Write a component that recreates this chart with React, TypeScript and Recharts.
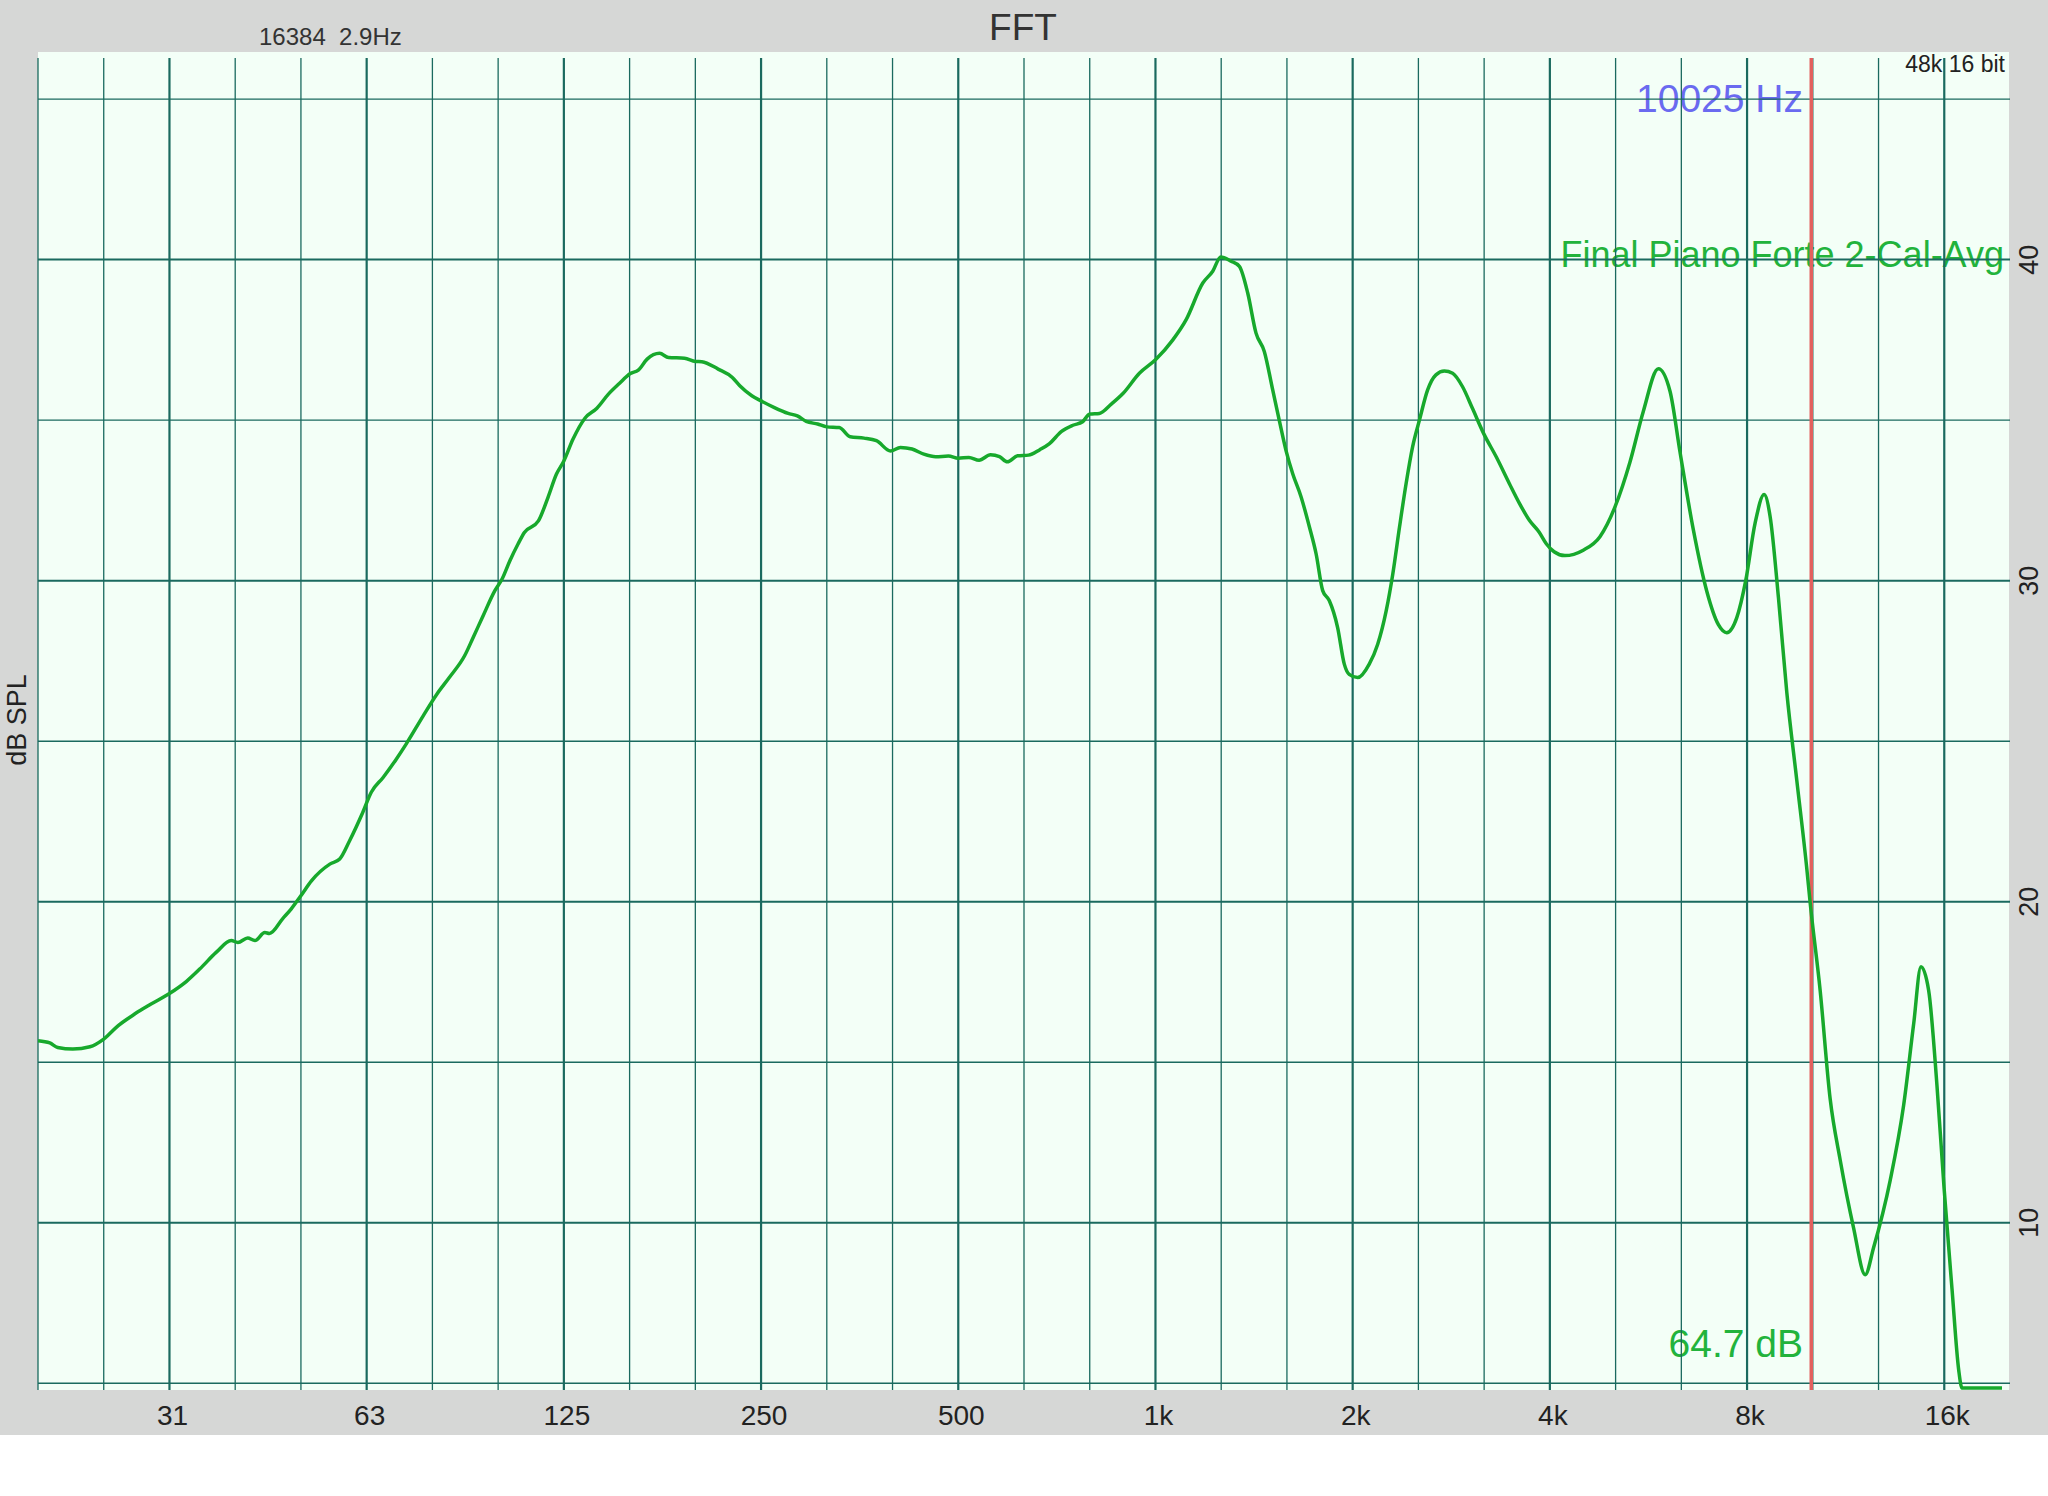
import { LineChart, Line, XAxis, YAxis, ReferenceLine } from "recharts";

// FFT response (Hz, dB SPL)
const FREQ_HZ = [
  19.69, 20.52, 21.1, 22.25, 23.63, 24.8, 26.1, 27.65, 29.29, 31.25,
  33.18, 34.75, 36.82, 38.83, 39.74, 41.14, 42.2, 43.69, 44.4, 46.6,
  47.92, 49.5, 51.47, 54.91, 56.85, 58.86, 61.64, 63.52, 66.22, 69.35,
  71.8, 76.24, 80.03, 83.62, 88.18, 90.88, 94.08, 98.08, 100.6, 103.4,
  106.4, 108.8, 114.3, 118.2, 121.8, 125, 129.1, 134.6, 140.4, 146.2,
  151.9, 157.9, 162.4, 167.5, 175, 180.6, 191, 198.5, 203, 215,
  226, 232, 242, 250, 262, 275, 284, 293, 305, 315,
  329, 342, 359, 375, 394, 408, 425, 443, 462, 483,
  500, 519, 538, 560, 578, 594, 616, 640, 666, 689,
  718, 748, 774, 794, 821, 856, 892, 945, 1000, 1063,
  1114, 1181, 1223, 1258, 1304, 1343, 1383, 1424, 1466, 1510,
  1545, 1582, 1620, 1669, 1718, 1759, 1800, 1842, 1897, 1942,
  1976, 2035, 2120, 2184, 2250, 2303, 2358, 2413, 2469, 2529,
  2603, 2680, 2760, 2842, 2943, 3048, 3170, 3314, 3470, 3596,
  3722, 3853, 3950, 4060, 4217, 4498, 4770, 5034, 5300, 5555,
  5856, 6102, 6320, 6624, 6942, 7233, 7449, 7714, 7962, 8229,
  8494, 8675, 8933, 9199, 9528, 9869, 9985, 10343, 10713, 11096,
  11630, 12118, 12479, 13233, 13869, 14366, 14741, 15144, 15594, 15984,
  16440, 16831, 17029, 19600,
];
const SPL_DB = [
  15.67, 15.6, 15.46, 15.41, 15.48, 15.72, 16.14, 16.5, 16.81, 17.14,
  17.52, 17.9, 18.42, 18.79, 18.73, 18.87, 18.79, 19.04, 19.01, 19.49,
  19.77, 20.16, 20.65, 21.17, 21.33, 21.9, 22.78, 23.41, 23.87, 24.44,
  24.91, 25.79, 26.47, 26.99, 27.66, 28.23, 28.9, 29.69, 30.05, 30.62,
  31.14, 31.5, 31.86, 32.59, 33.32, 33.73, 34.41, 35.06, 35.37, 35.81,
  36.14, 36.45, 36.56, 36.9, 37.08, 36.95, 36.93, 36.83, 36.82, 36.59,
  36.33, 36.07, 35.76, 35.6, 35.39, 35.21, 35.13, 34.96, 34.88, 34.79,
  34.77, 34.48, 34.44, 34.36, 34.04, 34.15, 34.1, 33.94, 33.86, 33.88,
  33.81, 33.84, 33.75, 33.92, 33.86, 33.7, 33.89, 33.91, 34.08, 34.27,
  34.64, 34.84, 34.95, 35.19, 35.21, 35.5, 35.83, 36.46, 36.88, 37.5,
  38.13, 39.27, 39.64, 40.08, 39.95, 39.79, 38.96, 37.71, 37.14, 35.94,
  35.0, 34.06, 33.33, 32.6, 31.67, 30.83, 29.69, 29.38, 28.54, 27.4,
  27.08, 26.98, 27.4, 28.02, 29.06, 30.21, 31.67, 33.02, 34.17, 35.0,
  35.94, 36.41, 36.53, 36.46, 36.04, 35.36, 34.58, 33.85, 33.02, 32.4,
  31.88, 31.51, 31.15, 30.9, 30.78, 30.95, 31.37, 32.32, 33.69, 35.27,
  36.6, 35.9, 34.01, 31.58, 29.68, 28.63, 28.38, 28.84, 30.0, 31.79,
  32.68, 32.0, 29.47, 26.52, 23.78, 21.03, 19.98, 17.24, 13.86, 11.96,
  9.85, 8.38, 9.22, 11.33, 13.65, 16.18, 17.97, 17.24, 14.28, 11.12,
  7.95, 5.42, 4.85, 4.85,
];

const OCTAVE_TICKS = [31.25, 62.5, 125, 250, 500, 1000, 2000, 4000, 8000, 16000];
const OCTAVE_LABELS = ["31", "63", "125", "250", "500", "1k", "2k", "4k", "8k", "16k"];
const DB_TICKS = [10, 20, 30, 40];
const DB_GRID = [5, 10, 15, 20, 25, 30, 35, 40, 45];
// 1/3-octave grid, 20 Hz .. 16 kHz
const THIRD_OCT_STEPS = Array.from({ length: 30 }, (_, i) => i - 17);
const CURSOR_HZ = 10025;

const F_MIN = 1000 * 2 ** (-17 / 3);
const F_MAX = 1000 * 2 ** (13 / 3);
const DB_MIN = 4.79;
const DB_MAX = 46.28;

const FONT = '"Liberation Sans", Arial, Helvetica, sans-serif';
const GRID = "#1a6a5f";
const GREEN = "#17a92c";
const LABEL_GREEN = "#22b33c";

const data = FREQ_HZ.map((f, i) => ({ f, db: SPL_DB[i] }));

function FreqTick({ x, payload }: any) {
  const i = OCTAVE_TICKS.indexOf(payload.value);
  return (
    <text x={x + 3} y={1425} textAnchor="middle" fontSize={28} fontFamily={FONT} fill="#222">
      {OCTAVE_LABELS[i]}
    </text>
  );
}

function DbTick({ y, payload }: any) {
  const x = 2029;
  return (
    <text
      x={x}
      y={y}
      transform={`rotate(-90, ${x}, ${y})`}
      textAnchor="middle"
      dominantBaseline="central"
      fontSize={27}
      fontFamily={FONT}
      fill="#222"
    >
      {payload.value}
    </text>
  );
}

export default function App() {
  return (
    <div style={{ position: "absolute", left: 0, top: 0, width: 2048, height: 1496, background: "#fff" }}>
      <div style={{ position: "absolute", left: 0, top: 0, width: 2048, height: 1435, background: "#d6d7d6" }} />
      <div style={{ position: "absolute", left: 38, top: 52, width: 1971, height: 1338, background: "#f3fff7" }} />

      {/* annotations, under the grid */}
      <svg width={2048} height={1496} style={{ position: "absolute", left: 0, top: 0 }}>
        <text x={1023} y={40} textAnchor="middle" fontSize={37} fontFamily={FONT} fill="#333">FFT</text>
        <text x={259} y={45} fontSize={24} fontFamily={FONT} fill="#333" style={{ whiteSpace: "pre" }}>
          {"16384  2.9Hz"}
        </text>
        <text x={2005} y={72} textAnchor="end" fontSize={23} fontFamily={FONT} fill="#222">48k 16 bit</text>
        <text x={1803} y={112} textAnchor="end" fontSize={39} fontFamily={FONT} fill="#6a6af0">10025 Hz</text>
        <text x={2004} y={267} textAnchor="end" fontSize={36} fontFamily={FONT} fill={LABEL_GREEN}>
          Final Piano Forte 2-Cal-Avg
        </text>
        <text x={1803} y={1357} textAnchor="end" fontSize={39} fontFamily={FONT} fill={LABEL_GREEN}>64.7 dB</text>
        <text
          x={17}
          y={720}
          transform="rotate(-90, 17, 720)"
          textAnchor="middle"
          dominantBaseline="central"
          fontSize={27}
          fontFamily={FONT}
          fill="#222"
        >
          dB SPL
        </text>
      </svg>

      <div style={{ position: "absolute", left: 0, top: 0 }}>
        <LineChart width={2048} height={1496} data={data} margin={{ top: 58, left: 38, right: 0, bottom: 61 }}>
          <XAxis
            dataKey="f"
            type="number"
            scale="log"
            domain={[F_MIN, F_MAX]}
            allowDataOverflow
            ticks={OCTAVE_TICKS}
            tick={<FreqTick />}
            axisLine={false}
            tickLine={false}
            height={45}
          />
          <YAxis
            type="number"
            orientation="right"
            domain={[DB_MIN, DB_MAX]}
            allowDataOverflow
            ticks={DB_TICKS}
            tick={<DbTick />}
            axisLine={false}
            tickLine={false}
            width={38}
          />
          {DB_GRID.map((v) => (
            <ReferenceLine
              key={`h${v}`}
              y={v}
              stroke={GRID}
              strokeWidth={v % 10 === 0 ? 2 : 1.4}
              zIndex={-50}
            />
          ))}
          {THIRD_OCT_STEPS.map((k) => (
            <ReferenceLine
              key={`v${k}`}
              x={1000 * 2 ** (k / 3)}
              stroke={GRID}
              strokeWidth={k % 3 === 0 ? 2.2 : 1.3}
              zIndex={-50}
            />
          ))}
          <ReferenceLine x={CURSOR_HZ} stroke="#e2605e" strokeWidth={3.5} zIndex={-40} />
          <Line
            dataKey="db"
            type="monotone"
            stroke={GREEN}
            strokeWidth={3.5}
            dot={false}
            activeDot={false}
            isAnimationActive={false}
          />
        </LineChart>
      </div>
    </div>
  );
}
